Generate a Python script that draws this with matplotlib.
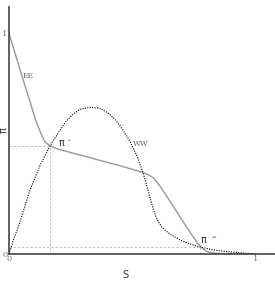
import numpy as np
import matplotlib.pyplot as plt

# EE curve (solid grey)
ee_s = [0.0, 0.06, 0.11, 0.13, 0.145, 0.166, 0.2, 0.25, 0.35, 0.45, 0.52, 0.56, 0.585, 0.61, 0.64, 0.68, 0.72, 0.76, 0.78, 0.80, 0.82, 0.86, 0.92, 1.0]
ee_pi = [1.0, 0.78, 0.6, 0.545, 0.51, 0.49, 0.475, 0.46, 0.43, 0.40, 0.377, 0.362, 0.345, 0.31, 0.26, 0.19, 0.12, 0.055, 0.028, 0.012, 0.005, 0.002, 0.001, 0.0]

# WW curve (dotted black)
ww_s = [0.0, 0.02, 0.04, 0.085, 0.125, 0.166, 0.2, 0.23, 0.26, 0.29, 0.33, 0.37, 0.4, 0.43, 0.46, 0.49, 0.52, 0.545, 0.565, 0.585, 0.6, 0.62, 0.644, 0.67, 0.7, 0.74, 0.773, 0.83, 0.89, 0.95, 1.0]
ww_pi = [0.0, 0.07, 0.13, 0.29, 0.40, 0.49, 0.55, 0.6, 0.635, 0.657, 0.665, 0.66, 0.64, 0.61, 0.565, 0.51, 0.44, 0.36, 0.28, 0.2, 0.155, 0.12, 0.097, 0.078, 0.06, 0.043, 0.032, 0.018, 0.01, 0.004, 0.0]

eq1 = (0.166, 0.49)
eq2 = (0.775, 0.031)

fig = plt.figure(figsize=(2.75, 2.82), dpi=100)
ax = fig.add_axes([9/275, 28/282, 266/275, 247/282])

ax.plot(ee_s, ee_pi, color='#999999', linewidth=1.0)
ax.plot(ww_s, ww_pi, color='black', linewidth=0.8, linestyle=(0, (1, 1.2)))

for x0, y0 in [eq1, eq2]:
    ax.plot([x0, x0], [0, y0], color='#bbbbbb', linewidth=0.6, dashes=(3, 2))
    ax.plot([0, x0], [y0, y0], color='#bbbbbb', linewidth=0.6, dashes=(3, 2))

ax.text(0.055, 0.8, 'EE', fontsize=5.5, color='#666666', family='DejaVu Serif')
ax.text(0.5, 0.49, 'WW', fontsize=5.5, color='#666666', family='DejaVu Serif')
ax.text(0.2, 0.49, '\u03c0', fontsize=7, color='#333333')
ax.text(0.24, 0.505, '*', fontsize=4, color='#666666')
ax.text(0.775, 0.05, '\u03c0', fontsize=7, color='#333333')
ax.text(0.82, 0.065, '**', fontsize=4, color='#666666')

ax.set_xlim(0, 1.077)
ax.set_ylim(0, 1.12)
ax.set_xticks([0, 1])
ax.set_yticks([0, 1])
ax.set_xticklabels(['0', '1'], fontsize=6, color='#777777', family='DejaVu Serif')
ax.set_yticklabels(['0', '1'], fontsize=6, color='#777777', family='DejaVu Serif')
ax.tick_params(length=0, pad=1)
ax.spines['top'].set_visible(False)
ax.spines['right'].set_visible(False)
for sp in ['left', 'bottom']:
    ax.spines[sp].set_color('#444444')
    ax.spines[sp].set_linewidth(1.2)

ax.set_xlabel('S', fontsize=7, color='#333333')
ax.xaxis.set_label_coords(116/266, -16/247)
ax.set_ylabel('\u03c0', fontsize=7, color='#333333', va='center')
ax.yaxis.set_label_coords(-5/266, 124/247)

fig.savefig('out.png', dpi=100)
